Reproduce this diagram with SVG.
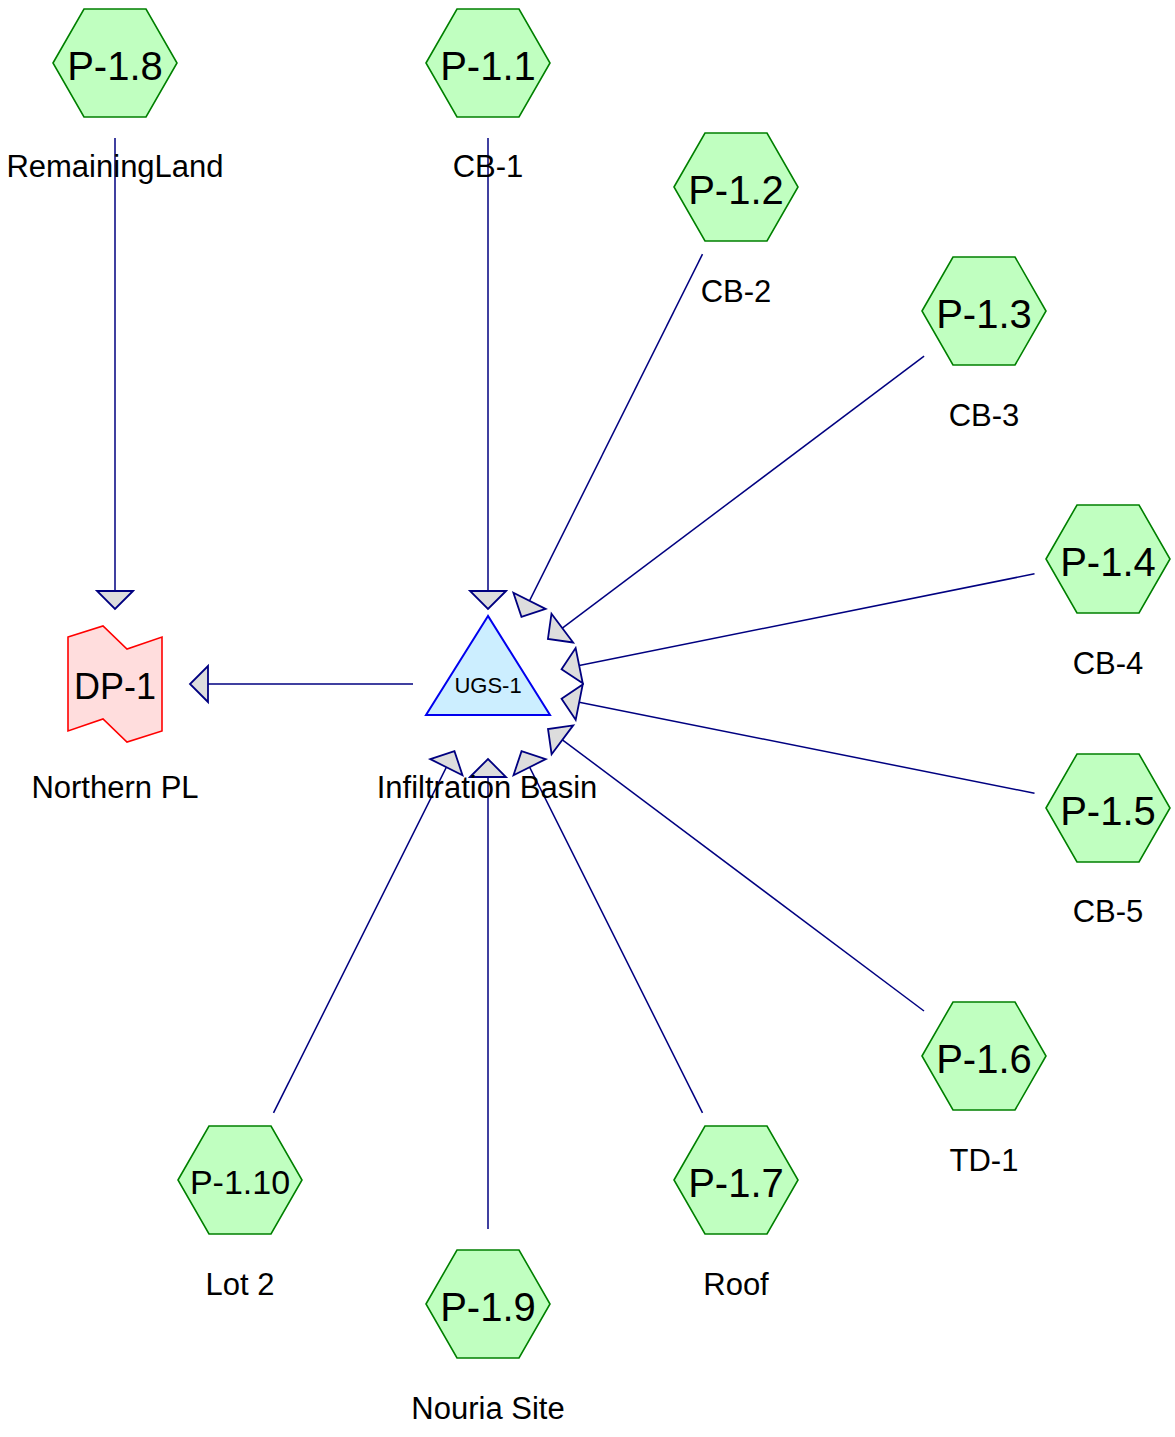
<svg xmlns="http://www.w3.org/2000/svg" xmlns:xlink="http://www.w3.org/1999/xlink" width="1175" height="1437" viewBox="0 0 1175 1437">
<style>
.hex{fill:#c0ffc0;stroke:#008000;stroke-width:1.6}
.hl{font-family:"Liberation Sans",Arial,sans-serif;font-size:40px;fill:#000;text-anchor:middle}
.lbl{font-family:"Liberation Sans",Arial,sans-serif;font-size:31px;fill:#000;text-anchor:middle}
.edge{stroke:#000080;stroke-width:1.5;fill:none;marker-end:url(#arr)}
</style>
<defs>
<polygon id="hexshape" points="-62,0 -31,-54 31,-54 62,0 31,54 -31,54"/>
<marker id="arr" markerUnits="userSpaceOnUse" markerWidth="20" markerHeight="38" refX="0" refY="18" orient="auto" overflow="visible">
<path d="M0,0 L18,18 L0,36 Z" fill="#dddddd" stroke="#000080" stroke-width="1.8" stroke-linejoin="miter"/>
</marker>
</defs>
<rect width="1175" height="1437" fill="#ffffff"/>
<g id="connectors">
<line class="edge" x1="115" y1="138" x2="115" y2="591"/>
<line class="edge" x1="413" y1="684" x2="208" y2="684"/>
<line class="edge" x1="488" y1="138" x2="488" y2="591"/>
<line class="edge" x1="702.5" y1="254.1" x2="529.5" y2="600.8"/>
<line class="edge" x1="924.1" y1="356.1" x2="562.3" y2="628.1"/>
<line class="edge" x1="1034.5" y1="573.8" x2="579.2" y2="665.6"/>
<line class="edge" x1="1034.5" y1="793.3" x2="579.2" y2="702.2"/>
<line class="edge" x1="924" y1="1011" x2="562.4" y2="739.8"/>
<line class="edge" x1="702.5" y1="1112.9" x2="529.6" y2="767.2"/>
<line class="edge" x1="488" y1="1229" x2="488" y2="777"/>
<line class="edge" x1="273.5" y1="1112.9" x2="446.4" y2="767.2"/>
</g>
<g id="DP-1">
<polygon points="68,637 103,626 127,649 162,637 162,731 127,742 103,719 68,731" fill="#ffdddd" stroke="#ff0000" stroke-width="1.6"/>
<text x="115" y="699" font-family="Liberation Sans, Arial, sans-serif" font-size="36" text-anchor="middle">DP-1</text>
<text class="lbl" x="115" y="798">Northern PL</text>
</g>
<g id="UGS-1">
<polygon points="488,616 426,715 550,715" fill="#cceeff" stroke="#0000ee" stroke-width="2"/>
<text x="488" y="693" font-family="Liberation Sans, Arial, sans-serif" font-size="22" text-anchor="middle">UGS-1</text>
<text class="lbl" x="487" y="798">Infiltration Basin</text>
</g>
<g id="P-1.8">
<use xlink:href="#hexshape" class="hex" x="115" y="63"/>
<text class="hl" x="115" y="80">P-1.8</text>
<text class="lbl" x="115" y="177">RemainingLand</text>
</g>
<g id="P-1.1">
<use xlink:href="#hexshape" class="hex" x="488" y="63"/>
<text class="hl" x="488" y="80">P-1.1</text>
<text class="lbl" x="488" y="177">CB-1</text>
</g>
<g id="P-1.2">
<use xlink:href="#hexshape" class="hex" x="736" y="187"/>
<text class="hl" x="736" y="204">P-1.2</text>
<text class="lbl" x="736" y="302">CB-2</text>
</g>
<g id="P-1.3">
<use xlink:href="#hexshape" class="hex" x="984" y="311"/>
<text class="hl" x="984" y="328">P-1.3</text>
<text class="lbl" x="984" y="426">CB-3</text>
</g>
<g id="P-1.4">
<use xlink:href="#hexshape" class="hex" x="1108" y="559"/>
<text class="hl" x="1108" y="576">P-1.4</text>
<text class="lbl" x="1108" y="674">CB-4</text>
</g>
<g id="P-1.5">
<use xlink:href="#hexshape" class="hex" x="1108" y="808"/>
<text class="hl" x="1108" y="825">P-1.5</text>
<text class="lbl" x="1108" y="922">CB-5</text>
</g>
<g id="P-1.6">
<use xlink:href="#hexshape" class="hex" x="984" y="1056"/>
<text class="hl" x="984" y="1073">P-1.6</text>
<text class="lbl" x="984" y="1171">TD-1</text>
</g>
<g id="P-1.7">
<use xlink:href="#hexshape" class="hex" x="736" y="1180"/>
<text class="hl" x="736" y="1197">P-1.7</text>
<text class="lbl" x="736" y="1295">Roof</text>
</g>
<g id="P-1.9">
<use xlink:href="#hexshape" class="hex" x="488" y="1304"/>
<text class="hl" x="488" y="1321">P-1.9</text>
<text class="lbl" x="488" y="1419">Nouria Site</text>
</g>
<g id="P-1.10">
<use xlink:href="#hexshape" class="hex" x="240" y="1180"/>
<text class="hl" x="240" y="1194" style="font-size:34px">P-1.10</text>
<text class="lbl" x="240" y="1295">Lot 2</text>
</g>
</svg>
